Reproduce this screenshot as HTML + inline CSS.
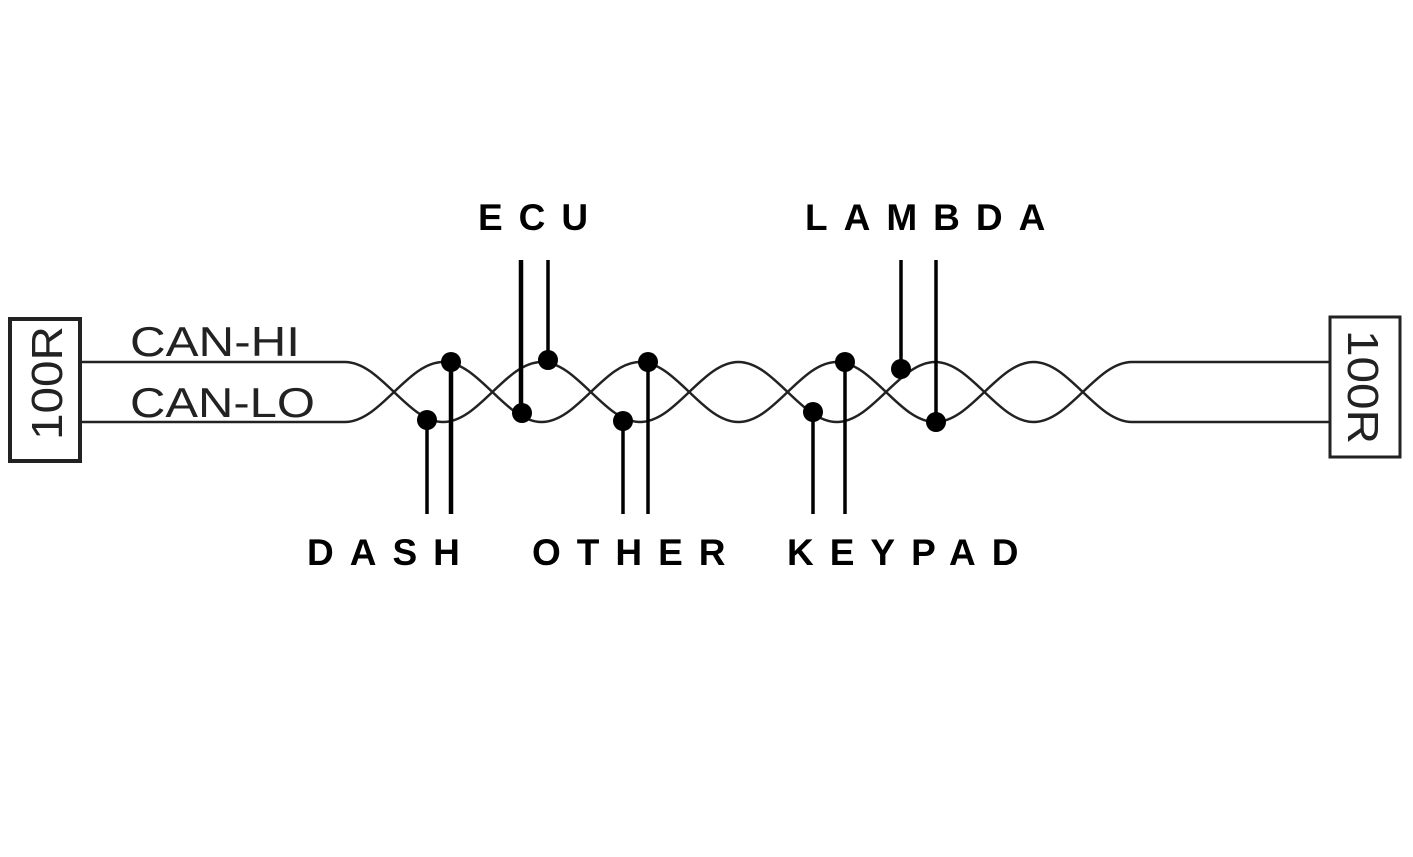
<!DOCTYPE html>
<html><head><style>body{margin:0;background:#fff}</style></head><body>
<svg width="1413" height="852" viewBox="0 0 1413 852" xmlns="http://www.w3.org/2000/svg">
<rect width="1413" height="852" fill="#fff"/>
<g fill="none" stroke="#222" stroke-width="2.5">
<rect x="10" y="319" width="70" height="142" stroke-width="4"/>
<rect x="1330" y="317" width="70" height="140" stroke-width="3"/>
<path id="wa" d=""/>
<path id="wb" d=""/>
</g>
<g stroke="#000" fill="none">
<line x1="427" y1="420" x2="427" y2="514" stroke-width="3.5"/>
<line x1="451" y1="362" x2="451" y2="514" stroke-width="4.5"/>
<line x1="521" y1="260" x2="521" y2="413" stroke-width="4.5"/>
<line x1="548" y1="260" x2="548" y2="360" stroke-width="3.5"/>
<line x1="623" y1="421" x2="623" y2="514" stroke-width="3.5"/>
<line x1="648" y1="362" x2="648" y2="514" stroke-width="3.5"/>
<line x1="813" y1="412" x2="813" y2="514" stroke-width="3.5"/>
<line x1="845" y1="362" x2="845" y2="514" stroke-width="3.5"/>
<line x1="901" y1="260" x2="901" y2="369" stroke-width="3.5"/>
<line x1="936" y1="260" x2="936" y2="422" stroke-width="3.5"/>
</g>
<g fill="#000">
<circle cx="427" cy="420" r="10"/><circle cx="451" cy="362" r="10"/>
<circle cx="522" cy="413" r="10"/><circle cx="548" cy="360" r="10"/>
<circle cx="623" cy="421" r="10"/><circle cx="648" cy="362" r="10"/>
<circle cx="813" cy="412" r="10"/><circle cx="845" cy="362" r="10"/>
<circle cx="901" cy="369" r="10"/><circle cx="936" cy="422" r="10"/>
</g>
<g font-family="Liberation Sans, sans-serif" fill="#222">
<text x="130" y="356" font-size="42" textLength="170" lengthAdjust="spacingAndGlyphs">CAN-HI</text>
<text x="130" y="417" font-size="42" textLength="185" lengthAdjust="spacingAndGlyphs">CAN-LO</text>
<text transform="translate(62,383) rotate(-90)" text-anchor="middle" font-size="44" textLength="114" lengthAdjust="spacingAndGlyphs">100R</text>
<text transform="translate(1348,387) rotate(90)" text-anchor="middle" font-size="44" textLength="114" lengthAdjust="spacingAndGlyphs">100R</text>
</g>
<g font-family="Liberation Sans, sans-serif" font-weight="bold" font-size="37" fill="#000" letter-spacing="16">
<text x="478" y="230">ECU</text>
<text x="805" y="230">LAMBDA</text>
<text x="307" y="565">DASH</text>
<text x="532" y="565">OTHER</text>
<text x="787" y="565">KEYPAD</text>
</g>
<script>
(function(){
var x0=344.8,P=98.4,T=362,B=422,k=0.3642*P;
function mk(startTop){
 var y=startTop?T:B, d="M80,"+y+" L"+x0+","+y;
 for(var i=0;i<8;i++){var xa=x0+i*P,xb=xa+P,ny=(y===T)?B:T;
  d+=" C"+(xa+k)+","+y+" "+(xb-k)+","+ny+" "+xb+","+ny; y=ny;}
 d+=" L1330,"+y; return d;}
document.getElementById("wa").setAttribute("d",mk(true));
document.getElementById("wb").setAttribute("d",mk(false));
})();
</script>
</svg>
</body></html>
